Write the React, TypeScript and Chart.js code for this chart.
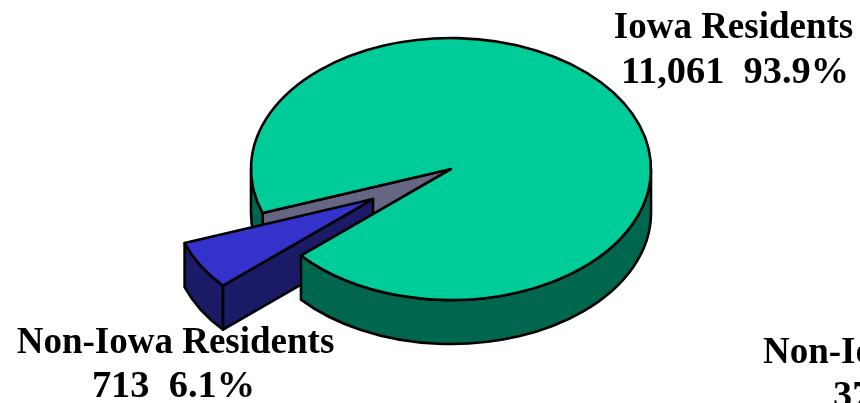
import React, { useEffect, useRef } from "react";
import { Chart, registerables } from "chart.js";

Chart.register(...registerables);

const categories = ["Iowa Residents", "Non-Iowa Residents"];
const counts = [11061, 713];
const countLabels = ["11,061", "713"];
const percents = ["93.9%", "6.1%"];
const topColors = ["#00CC99", "#3333CC"];
const wallColors = ["#00664D", "#1A1A66"];
const cutWallColor = "#666684";
const clippedLabelLines = ["Non-Iowa", "37"];

const SQUASH = 0.655;
const DEPTH = 44;
const EXPLODE = 90.5;
const ROTATION_DEG = 250.4;
const RADIUS = 200;
const FONT = 'bold 37px "Liberation Serif"';
const NUMBER_FONT = 'bold 38.4px "Liberation Serif"';
const STROKE = 2.6;

const pie3d = {
  id: "pie3d",
  afterDatasetsUpdate(chart: any) {
    const arc = chart.getDatasetMeta(0).data[1];
    const mid = (arc.startAngle + arc.endAngle) / 2;
    arc.x += Math.cos(mid) * EXPLODE;
    arc.y += Math.sin(mid) * EXPLODE;
  },
  beforeDatasetsDraw(chart: any) {
    const { ctx } = chart;
    const [iowa, other] = chart.getDatasetMeta(0).data;
    const cy0 = iowa.y;
    const sy = (y: number) => cy0 + (y - cy0) * SQUASH;
    ctx.save();
    ctx.lineWidth = STROKE;
    ctx.strokeStyle = "#000";
    ctx.lineJoin = "round";

    const paint = (color: string) => {
      ctx.fillStyle = color;
      ctx.fill();
      ctx.stroke();
    };
    const outerWall = (arc: any, a0: number, a1: number, color: string) => {
      const x = arc.x, y = sy(arc.y), r = arc.outerRadius, ry = r * SQUASH;
      ctx.beginPath();
      ctx.ellipse(x, y, r, ry, 0, a0, a1);
      ctx.ellipse(x, y + DEPTH, r, ry, 0, a1, a0, true);
      ctx.closePath();
      paint(color);
    };
    const radialWall = (arc: any, a: number, color: string) => {
      const x = arc.x, y = sy(arc.y), r = arc.outerRadius, ry = r * SQUASH;
      const ex = x + Math.cos(a) * r, ey = y + Math.sin(a) * ry;
      ctx.beginPath();
      ctx.moveTo(x, y);
      ctx.lineTo(ex, ey);
      ctx.lineTo(ex, ey + DEPTH);
      ctx.lineTo(x, y + DEPTH);
      ctx.closePath();
      paint(color);
    };
    const visibleWalls = (arc: any, color: string) => {
      for (let k = 0; k < 3; k++) {
        const lo = Math.max(arc.startAngle, k * 2 * Math.PI);
        const hi = Math.min(arc.endAngle, k * 2 * Math.PI + Math.PI);
        if (hi > lo) outerWall(arc, lo, hi, color);
      }
    };

    radialWall(iowa, iowa.startAngle, cutWallColor);
    visibleWalls(other, wallColors[1]);
    radialWall(other, other.startAngle, wallColors[1]);
    visibleWalls(iowa, wallColors[0]);
    ctx.restore();

    ctx.save();
    ctx.translate(0, cy0);
    ctx.scale(1, SQUASH);
    ctx.translate(0, -cy0);
  },
  afterDatasetsDraw(chart: any) {
    const { ctx } = chart;
    ctx.restore();
    const arcs = chart.getDatasetMeta(0).data;
    const cy0 = arcs[0].y;
    ctx.save();
    ctx.lineWidth = STROKE;
    ctx.strokeStyle = "#000";
    ctx.lineJoin = "round";
    arcs.forEach((arc: any) => {
      const y = cy0 + (arc.y - cy0) * SQUASH;
      ctx.beginPath();
      ctx.moveTo(arc.x, y);
      ctx.ellipse(arc.x, y, arc.outerRadius, arc.outerRadius * SQUASH, 0, arc.startAngle, arc.endAngle);
      ctx.closePath();
      ctx.stroke();
    });
    ctx.restore();
  },
  afterDraw(chart: any) {
    const { ctx } = chart;
    ctx.save();
    ctx.fillStyle = "#000";
    ctx.textAlign = "center";
    ctx.textBaseline = "alphabetic";
    ctx.font = FONT;
    ctx.fillText(categories[0], 733.5, 37.5);
    ctx.fillText(categories[1], 175.5, 352.5);
    ctx.font = NUMBER_FONT;
    ctx.fillText(`${countLabels[0]}  ${percents[0]}`, 735, 82.5);
    ctx.fillText(`${countLabels[1]}  ${percents[1]}`, 173.5, 397);
    ctx.textAlign = "left";
    ctx.font = FONT;
    ctx.fillText(clippedLabelLines[0], 763, 363);
    ctx.font = NUMBER_FONT;
    ctx.fillText(clippedLabelLines[1], 833, 407);
    ctx.restore();
  },
};

export default function App() {
  const ref = useRef<HTMLCanvasElement>(null);
  useEffect(() => {
    document.body.style.margin = "0";
    const chart = new Chart(ref.current!, {
      type: "pie",
      data: {
        labels: categories,
        datasets: [
          {
            data: counts,
            backgroundColor: topColors,
            borderWidth: 0,
            clip: false,
          } as any,
        ],
      },
      options: {
        responsive: false,
        animation: false,
        rotation: ROTATION_DEG,
        radius: RADIUS,
        layout: { padding: { left: 42, right: 0, top: 0, bottom: 65 } },
        plugins: { legend: { display: false }, tooltip: { enabled: false } },
      } as any,
      plugins: [pie3d],
    });
    return () => chart.destroy();
  }, []);
  return (
    <div style={{ width: 860, height: 403, overflow: "hidden", background: "#fff" }}>
      <canvas ref={ref} width={860} height={403} style={{ display: "block" }} />
    </div>
  );
}
